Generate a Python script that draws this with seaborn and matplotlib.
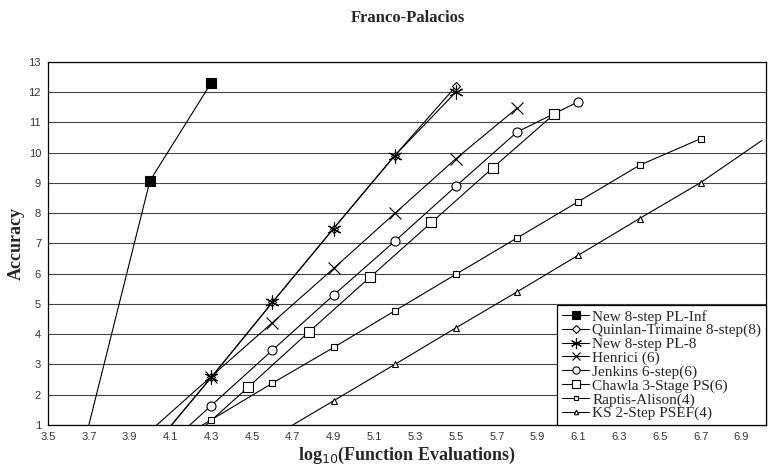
import matplotlib
matplotlib.use("Agg")
import matplotlib.pyplot as plt
import seaborn as sns

# series (x = log10 of function evaluations, y = accuracy)
pl_inf_x = [3.6, 4.0, 4.3]
pl_inf_y = [-1.7, 9.07, 12.3]

quinlan_x = [4.0, 4.3, 4.6, 4.9, 5.2, 5.5]
quinlan_y = [0.15, 2.57, 5.05, 7.49, 9.9, 12.19]

pl8_x = [4.0, 4.3, 4.6, 4.9, 5.2, 5.5]
pl8_y = [0.15, 2.57, 5.05, 7.49, 9.9, 12.0]

henrici_x = [4.0, 4.3, 4.6, 4.9, 5.2, 5.5, 5.8]
henrici_y = [0.8, 2.6, 4.38, 6.17, 7.99, 9.8, 11.47]

jenkins_x = [4.0, 4.3, 4.6, 4.9, 5.2, 5.5, 5.8, 6.1]
jenkins_y = [-0.2, 1.64, 3.47, 5.29, 7.07, 8.89, 10.68, 11.68]

chawla_x = [4.18, 4.48, 4.78, 5.08, 5.38, 5.68, 5.98]
chawla_y = [0.42, 2.24, 4.08, 5.89, 7.69, 9.49, 11.26]

raptis_x = [4.0, 4.3, 4.6, 4.9, 5.2, 5.5, 5.8, 6.1, 6.4, 6.7]
raptis_y = [-0.04, 1.17, 2.38, 3.56, 4.77, 5.98, 7.18, 8.38, 9.58, 10.46]

ks_x = [4.6, 4.9, 5.2, 5.5, 5.8, 6.1, 6.4, 6.7, 7.0]
ks_y = [0.6, 1.8, 3.0, 4.21, 5.4, 6.61, 7.82, 9.01, 10.4]

sns.set_theme(style="white")
plt.rcParams['font.family'] = ['Liberation Sans', 'DejaVu Sans']
serif = ['Liberation Serif', 'DejaVu Serif']

fig = plt.figure(figsize=(7.74, 4.73), dpi=100)
ax = fig.add_axes([0.062, 0.1015, 0.9277, 0.768])

series = [
    (pl_inf_x, pl_inf_y, "New 8-step PL-Inf", dict(marker='s', markersize=6.5, markerfacecolor='black')),
    (quinlan_x, quinlan_y, "Quinlan-Trimaine 8-step(8)", dict(marker='D', markersize=4.5, markerfacecolor='white')),
    (pl8_x, pl8_y, "New 8-step PL-8", dict(marker=(6, 2, 0), markersize=10)),
    (henrici_x, henrici_y, "Henrici (6)", dict(marker='x', markersize=8)),
    (jenkins_x, jenkins_y, "Jenkins 6-step(6)", dict(marker='o', markersize=6.5, markerfacecolor='white')),
    (chawla_x, chawla_y, "Chawla 3-Stage PS(6)", dict(marker='s', markersize=7, markerfacecolor='white')),
    (raptis_x, raptis_y, "Raptis-Alison(4)", dict(marker='s', markersize=4, markerfacecolor='white')),
    (ks_x, ks_y, "KS 2-Step PSEF(4)", dict(marker='^', markersize=4, markerfacecolor='white',
                                           markevery=slice(0, -1))),
]

for xs, ys, name, style in series:
    sns.lineplot(x=xs, y=ys, ax=ax, sort=False, color='black', linewidth=0.8,
                 markeredgecolor='black', markeredgewidth=0.8, label=name, **style)

ax.set_xlim(3.5, 7.02)
ax.set_ylim(1, 13)
ax.set_xticks([3.5 + 0.2 * i for i in range(18)])
ax.set_xticklabels([f"{3.5 + 0.2 * i:.1f}" for i in range(18)])
ax.set_yticks(range(1, 14))
ax.yaxis.grid(True, color='#444444', linewidth=0.8)
ax.xaxis.grid(False)
ax.tick_params(axis='both', direction='out', length=3, width=0.8, color='black',
               labelsize=8, labelcolor='#333333', pad=2)
for sp in ax.spines.values():
    sp.set_color('black')
    sp.set_linewidth(0.9)

ax.set_xlabel("log$_{10}$(Function Evaluations)", fontsize=13, fontweight='bold',
              family=serif, labelpad=2)
ax.set_ylabel("Accuracy", fontsize=13, fontweight='bold', family=serif, labelpad=3)
fig.text(0.527, 0.962, "Franco-Palacios", ha='center', va='center', fontsize=12,
         fontweight='bold', family=serif)

leg = ax.legend(loc='lower right', borderaxespad=0, fancybox=False, frameon=True,
                edgecolor='black', framealpha=1, labelspacing=0, handlelength=1.8,
                handletextpad=0.2, borderpad=0.3, markerscale=0.8,
                prop={'family': serif, 'size': 11})
leg.get_frame().set_linewidth(0.9)

fig.savefig("out.png", dpi=100)
